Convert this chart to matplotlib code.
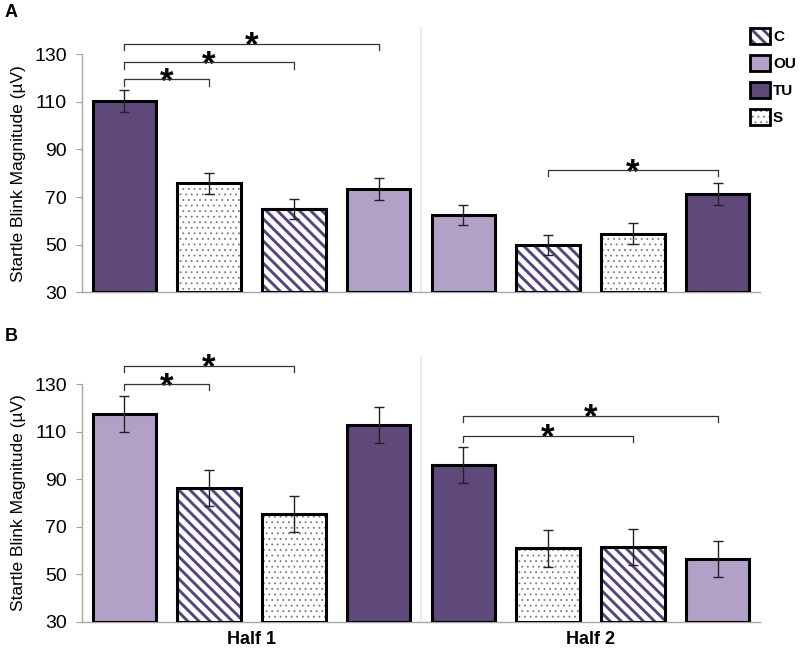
import matplotlib
matplotlib.use("Agg")
import matplotlib.pyplot as plt
from matplotlib.patches import Patch, Rectangle
from matplotlib.legend_handler import HandlerTuple
import numpy as np

plt.rcParams['font.family'] = ['Liberation Sans', 'DejaVu Sans']

# ---------------- data ----------------
conditions_a = ['TU', 'S', 'C', 'OU', 'OU', 'C', 'S', 'TU']
means_a = [110.3, 75.7, 64.9, 73.3, 62.4, 49.9, 54.5, 71.2]
errs_a = [4.5, 4.3, 4.3, 4.5, 4.3, 4.3, 4.4, 4.5]
sig_a = [(0, 1, 119.4), (0, 2, 126.6), (0, 3, 134.5), (5, 7, 81.3)]

conditions_b = ['OU', 'C', 'S', 'TU', 'TU', 'S', 'C', 'OU']
means_b = [117.5, 86.5, 75.5, 112.8, 95.9, 60.9, 61.6, 56.3]
errs_b = [7.6, 7.6, 7.6, 7.7, 7.6, 7.9, 7.6, 7.6]
sig_b = [(0, 1, 130.0), (0, 2, 137.8), (4, 6, 108.4), (4, 7, 116.8)]

half_labels = ['Half 1', 'Half 2']
yticks = [30, 50, 70, 90, 110, 130]
legend_order = ['C', 'OU', 'TU', 'S']
ylabel = 'Startle Blink Magnitude (\u00b5V)'

# ---------------- styles ----------------
DARK = '#5F497A'
LIGHT = '#B2A1C7'
STRIPE = '#54457E'
DOTC = '#7A7A7A'
styles = {
    'TU': dict(facecolor=DARK, hatch=None, hcolor=None),
    'OU': dict(facecolor=LIGHT, hatch=None, hcolor=None),
    'C': dict(facecolor='white', hatch='\\\\\\', hcolor=STRIPE),
    'S': dict(facecolor='white', hatch='...', hcolor=DOTC),
}
hatch_lw = {'C': 2.1, 'S': 0.6}

fig = plt.figure(figsize=(8, 6.48), dpi=100)
ax_a = fig.add_axes([0.1025, 0.549, 0.8475, 0.3673])
ax_b = fig.add_axes([0.1025, 0.0406, 0.8475, 0.3664])

W = 0.75


def make_fill_patch_kwargs(cond):
    st = styles[cond]
    if st['hatch']:
        return dict(facecolor='white', edgecolor=st['hcolor'], hatch=st['hatch'], linewidth=0)
    return dict(facecolor=st['facecolor'], edgecolor='none', linewidth=0)


def draw_bar(ax, x, h, cond, base=30):
    st = styles[cond]
    kw = make_fill_patch_kwargs(cond)
    if st['hatch']:
        with plt.rc_context({'hatch.linewidth': hatch_lw[cond]}):
            b = ax.bar(x, h - base, bottom=base, width=W, zorder=2, **kw)
            for p in b:
                if hasattr(p, 'set_hatch_linewidth'):
                    p.set_hatch_linewidth(hatch_lw[cond])
    else:
        ax.bar(x, h - base, bottom=base, width=W, zorder=2, **kw)
    ax.bar(x, h - base, bottom=base, width=W, fill=False, edgecolor='black',
           linewidth=2.2, zorder=3)


def panel(ax, conds, means, errs, sigs, show_x):
    x = np.arange(len(conds))
    for xi, c, m in zip(x, conds, means):
        draw_bar(ax, xi, m, c)
    ax.errorbar(x, means, yerr=errs, fmt='none', ecolor='#222222',
                elinewidth=1.0, capsize=3.5, capthick=1.0, zorder=4)
    ax.set_xlim(-0.5, len(conds) - 0.5)
    ax.set_ylim(30, 130)
    ax.set_yticks(yticks)
    ax.tick_params(axis='y', labelsize=14, length=4, color='#A0A0A0', pad=7)
    ax.tick_params(axis='x', length=0)
    for s in ['top', 'right']:
        ax.spines[s].set_visible(False)
    for s in ['left', 'bottom']:
        ax.spines[s].set_color('#A6A6A6')
        ax.spines[s].set_linewidth(1.0)
    ax.set_ylabel(ylabel, fontsize=12.5, labelpad=6)
    # separator between halves
    ax.plot([3.5, 3.5], [30, 141], color='#EAEAEA', lw=1.6, clip_on=False, zorder=1)
    if show_x:
        ax.set_xticks([1.5, 5.5])
        ax.set_xticklabels(half_labels, fontsize=13, fontweight='bold')
        ax.tick_params(axis='x', pad=7)
    else:
        ax.set_xticks([])
    # significance brackets
    for i, j, y in sigs:
        ax.plot([i, i, j, j], [y - 2.6, y, y, y - 2.6], color='#333333', lw=0.9,
                clip_on=False, zorder=5)
        ax.annotate('*', xy=((i + j) / 2, y), xytext=(0, -9),
                    textcoords='offset points', ha='center', va='baseline',
                    fontsize=25, fontweight='bold', annotation_clip=False)


panel(ax_a, conditions_a, means_a, errs_a, sig_a, False)
panel(ax_b, conditions_b, means_b, errs_b, sig_b, True)

fig.text(0.006, 0.981, 'A', fontsize=13, fontweight='bold', va='center', ha='left')
fig.text(0.006, 0.481, 'B', fontsize=13, fontweight='bold', va='center', ha='left')

# legend
handles = []
for c in legend_order:
    fillp = Patch(**make_fill_patch_kwargs(c))
    edgep = Patch(fill=False, edgecolor='black', linewidth=2.0)
    handles.append((fillp, edgep))

with plt.rc_context({'hatch.linewidth': hatch_lw['C']}):
    leg = fig.legend(handles, legend_order,
                     handler_map={tuple: HandlerTuple(ndivide=1, pad=0)},
                     loc='upper left', bbox_to_anchor=(0.9375, 0.957), borderaxespad=0,
                     borderpad=0, frameon=False, handlelength=1.3, handleheight=1.25,
                     labelspacing=0.7, handletextpad=0.2,
                     prop={'size': 11, 'weight': 'bold'})
    for p in leg.findobj(Rectangle):
        h = p.get_hatch()
        if h and hasattr(p, 'set_hatch_linewidth'):
            p.set_hatch_linewidth(hatch_lw['S'] if '.' in h else hatch_lw['C'])

fig.savefig('out.png', dpi=100)
